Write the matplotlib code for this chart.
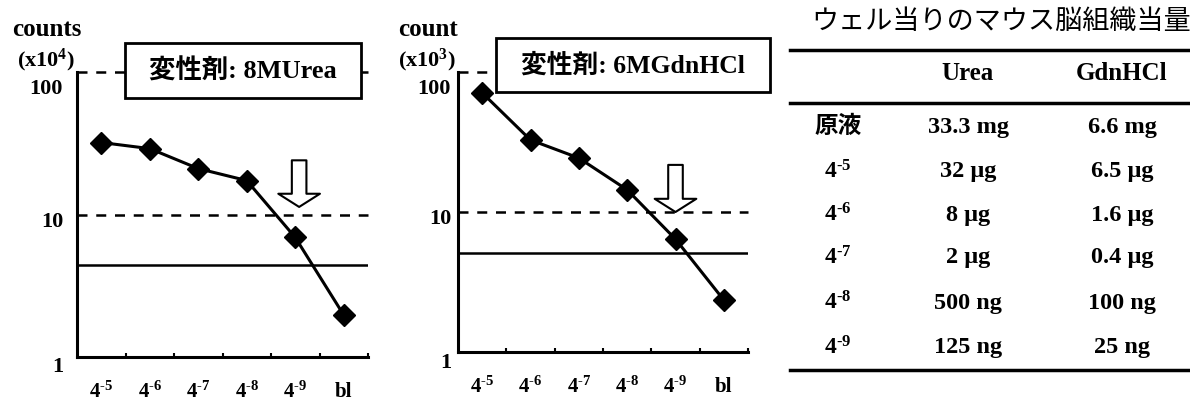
import numpy as np
import matplotlib
matplotlib.use('Agg')
import matplotlib.pyplot as plt
from matplotlib.patches import Rectangle
from matplotlib.lines import Line2D
from matplotlib.transforms import ScaledTranslation

plt.rcParams['font.family'] = ['Liberation Serif', 'Noto Sans CJK JP']
plt.rcParams['font.weight'] = 'bold'
plt.rcParams['mathtext.fontset'] = 'custom'
plt.rcParams['mathtext.rm'] = 'Liberation Serif:bold'
plt.rcParams['mathtext.bf'] = 'Liberation Serif:bold'
plt.rcParams['mathtext.default'] = 'rm'

# data
dilutions = ['4$^{\\text{-}5}$', '4$^{\\text{-}6}$', '4$^{\\text{-}7}$',
             '4$^{\\text{-}8}$', '4$^{\\text{-}9}$', 'bl']
urea_counts = [32, 29, 21, 17.3, 6.9, 1.97]        # x10^4
gdn_counts = [71, 32.7, 24.3, 14.4, 6.4, 2.35]     # x10^3
urea_cutoff = 4.4
gdn_cutoff = 5.1
dashed_levels = [10, 100]

table_title = 'ウェル当りのマウス脳組織当量'
table_cols = ['', 'Urea', 'GdnHCl']
row_labels = ['原液', '4$^{\\text{-}5}$', '4$^{\\text{-}6}$', '4$^{\\text{-}7}$',
              '4$^{\\text{-}8}$', '4$^{\\text{-}9}$']
urea_amount = ['33.3 mg', '32 μg', '8 μg', '2 μg', '500 ng', '125 ng']
gdn_amount = ['6.6 mg', '6.5 μg', '1.6 μg', '0.4 μg', '100 ng', '25 ng']

W, H = 1190, 404
fig = plt.figure(figsize=(W / 100, H / 100), dpi=100)


def fx(px):
    return px / W


def fy(py):
    return 1 - py / H


def make_panel(left, right, top, bottom, values, cutoff, ylabel1, ylabel2,
               box, box_text, box_fs, arrow, ypad):
    ax = fig.add_axes([fx(left), fy(bottom), fx(right - left), (bottom - top) / H])
    x = np.arange(len(values))
    ax.set_yscale('log')
    ax.set_ylim(1, 100)
    ax.set_xlim(-0.5, 5.5)
    for lev in dashed_levels:
        ax.axhline(lev, color='black', lw=1.8, ls=(0, (4, 3.5)), clip_on=False, zorder=1)
    ax.axhline(cutoff, color='black', lw=1.8, zorder=1)
    ax.plot(x, values, color='black', lw=2.2, marker='D', markersize=11, zorder=3)
    ax.spines['top'].set_visible(False)
    ax.spines['right'].set_visible(False)
    ax.spines['left'].set_linewidth(2.2)
    ax.spines['bottom'].set_linewidth(2.2)
    ax.set_xticks(x)
    ax.set_xticklabels(dilutions, fontsize=15)
    ax.set_xticks(np.arange(0.5, 6, 1), minor=True)
    ax.tick_params(axis='x', which='major', length=0, pad=18)
    ax.tick_params(axis='x', which='minor', length=3, width=1.5, direction='in')
    ax.set_yticks([1, 10, 100])
    ax.set_yticklabels(['1', '10', '100'], fontsize=16)
    ax.yaxis.set_minor_locator(matplotlib.ticker.NullLocator())
    ax.tick_params(axis='y', length=0, pad=ypad)
    # the scanned labels sit a little below their gridlines
    for lab, drop in zip(ax.get_yticklabels(), [8, 5, 15]):
        off = ScaledTranslation(0, -drop / 100, fig.dpi_scale_trans)
        lab.set_transform(lab.get_transform() + off)

    # y-axis unit label
    fig.text(fx(left - 30), fy(30), ylabel1, fontsize=18, ha='center', va='center')
    fig.text(fx(left - 31), fy(60), ylabel2, fontsize=16, ha='center', va='center')

    # denaturant box
    bx0, by0, bx1, by1 = box
    fig.add_artist(Rectangle((fx(bx0), fy(by1)), fx(bx1 - bx0), (by1 - by0) / H,
                             transform=fig.transFigure, fc='white', ec='black',
                             lw=2, zorder=5))
    fig.text(fx((bx0 + bx1) / 2), fy((by0 + by1) / 2), box_text, fontsize=box_fs,
             ha='center', va='center', zorder=6)

    # hollow arrow pointing at the detection limit
    ax_, top_, tip_ = arrow
    ax.annotate('', xy=(ax_, tip_), xytext=(ax_, top_),
                arrowprops=dict(arrowstyle='simple,head_length=0.95,head_width=3.0,tail_width=1.05',
                                fc='white', ec='black', lw=1.5, shrinkA=0, shrinkB=0,
                                mutation_scale=10), zorder=4)
    return ax


make_panel(77, 368, 72, 357, urea_counts, urea_cutoff, 'counts', '(x10$^{4}$)',
           (125, 43, 361, 98), '変性剤: 8MUrea', 19, (4.08, 24, 11.3), 10)
make_panel(458, 748, 72, 352, gdn_counts, gdn_cutoff, 'count', '(x10$^{3}$)',
           (496, 38, 770, 92), '変性剤: 6MGdnHCl', 18.5, (4.0, 21.7, 10), 5)

# table of tissue equivalents
fig.text(fx(1001), fy(22), table_title, fontsize=19.5, ha='center', va='center',
         fontweight='normal')
col_x = [838, 968, 1122]
rule_x = (fx(790), fx(1190))
for ry in [50, 103, 370]:
    fig.add_artist(Line2D(rule_x, [fy(ry), fy(ry)], color='black', lw=2.5,
                          transform=fig.transFigure))
for cx, name in zip(col_x, table_cols):
    fig.text(fx(cx), fy(73), name, fontsize=18, ha='center', va='center')
row_y = [127, 172, 215, 258, 303, 348]
for ry, lab, u, g in zip(row_y, row_labels, urea_amount, gdn_amount):
    fig.text(fx(col_x[0]), fy(ry), lab, fontsize=17, ha='center', va='center')
    fig.text(fx(col_x[1]), fy(ry), u, fontsize=17.5, ha='center', va='center')
    fig.text(fx(col_x[2]), fy(ry), g, fontsize=17.5, ha='center', va='center')

fig.savefig('out.png', dpi=100)
